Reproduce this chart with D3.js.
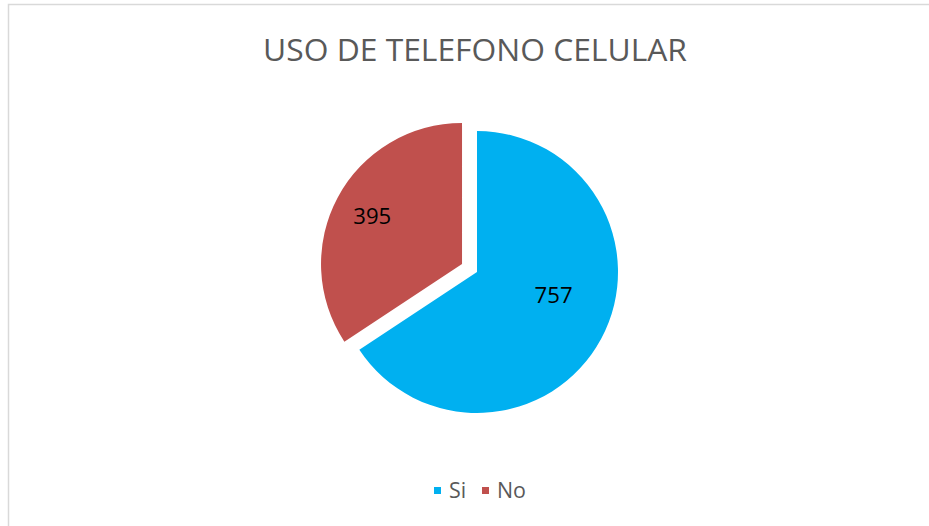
<!DOCTYPE html>
<html>
<head>
<meta charset="utf-8">
<script src="https://cdn.jsdelivr.net/npm/d3@7/dist/d3.min.js"></script>
<style>
  html, body { margin: 0; padding: 0; background: #ffffff; }
  svg { display: block; }
  text { font-family: "Open Sans", "Noto Sans", sans-serif; }
</style>
</head>
<body>
<svg id="chart" width="929" height="526"></svg>
<script>
const title = "USO DE TELEFONO CELULAR";
const categories = ["Si", "No"];
const values = [757, 395];
const colors = ["#00B0F0", "#C0504D"];
const explodeFlags = [false, true];

const svg = d3.select("#chart");
const W = 929, H = 526;

// fit a text element's font size to a target width; returns new size
function fitWidth(sel, target) {
  const fs = +sel.attr("font-size");
  const w = sel.node().getComputedTextLength();
  const nfs = w > 0 ? fs * target / w : fs;
  sel.attr("font-size", nfs.toFixed(2));
  return nfs;
}

// chart border
svg.append("rect")
  .attr("x", 8.5).attr("y", 4.5)
  .attr("width", W + 20).attr("height", H + 20)
  .attr("fill", "#ffffff")
  .attr("stroke", "#D9D9D9")
  .attr("stroke-width", 1.5);

// title
const t = svg.append("text")
  .attr("x", 475).attr("y", 61)
  .attr("text-anchor", "middle")
  .attr("font-size", 30)
  .attr("fill", "#595959")
  .text(title);
fitWidth(t, 424);

const cx = 477, cy = 272, r = 141, explode = 17;

const data = categories.map((c, i) => ({ cat: c, value: values[i], color: colors[i], ex: explodeFlags[i] }));
const pie = d3.pie().value(d => d.value).sort(null);
const arcs = pie(data);
const arc = d3.arc().innerRadius(0).outerRadius(r);

const g = svg.append("g").attr("transform", `translate(${cx},${cy})`);

arcs.forEach((a, i) => {
  const mid = (a.startAngle + a.endAngle) / 2;
  const off = a.data.ex ? explode : 0;
  const dx = Math.sin(mid) * off, dy = -Math.cos(mid) * off;
  const sg = g.append("g").attr("transform", `translate(${dx},${dy})`);
  sg.append("path").attr("d", arc(a)).attr("fill", a.data.color);
  const labelR = a.data.ex ? 102 : 80;
  const angShift = a.data.ex ? 0 : -0.2;
  const la = mid + angShift;
  const lt = sg.append("text")
    .attr("x", Math.sin(la) * labelR)
    .attr("y", -Math.cos(la) * labelR)
    .attr("dy", "0.36em")
    .attr("text-anchor", "middle")
    .attr("font-size", 22)
    .attr("fill", "#000000")
    .text(a.data.value);
  fitWidth(lt, 38);
});

// legend
const legend = svg.append("g");
const legendX = [434, 482];
const texts = [];
data.forEach((d, i) => {
  const lg = legend.append("g").attr("transform", `translate(${legendX[i]},487)`);
  lg.append("rect").attr("width", 7).attr("height", 7).attr("fill", d.color);
  texts.push(lg.append("text").attr("x", 15).attr("y", 11)
    .attr("font-size", 19).attr("fill", "#595959").text(d.cat));
});
const lfs = fitWidth(texts[1], 29);
texts.forEach(tx => tx.attr("font-size", lfs.toFixed(2)));
</script>
</body>
</html>
